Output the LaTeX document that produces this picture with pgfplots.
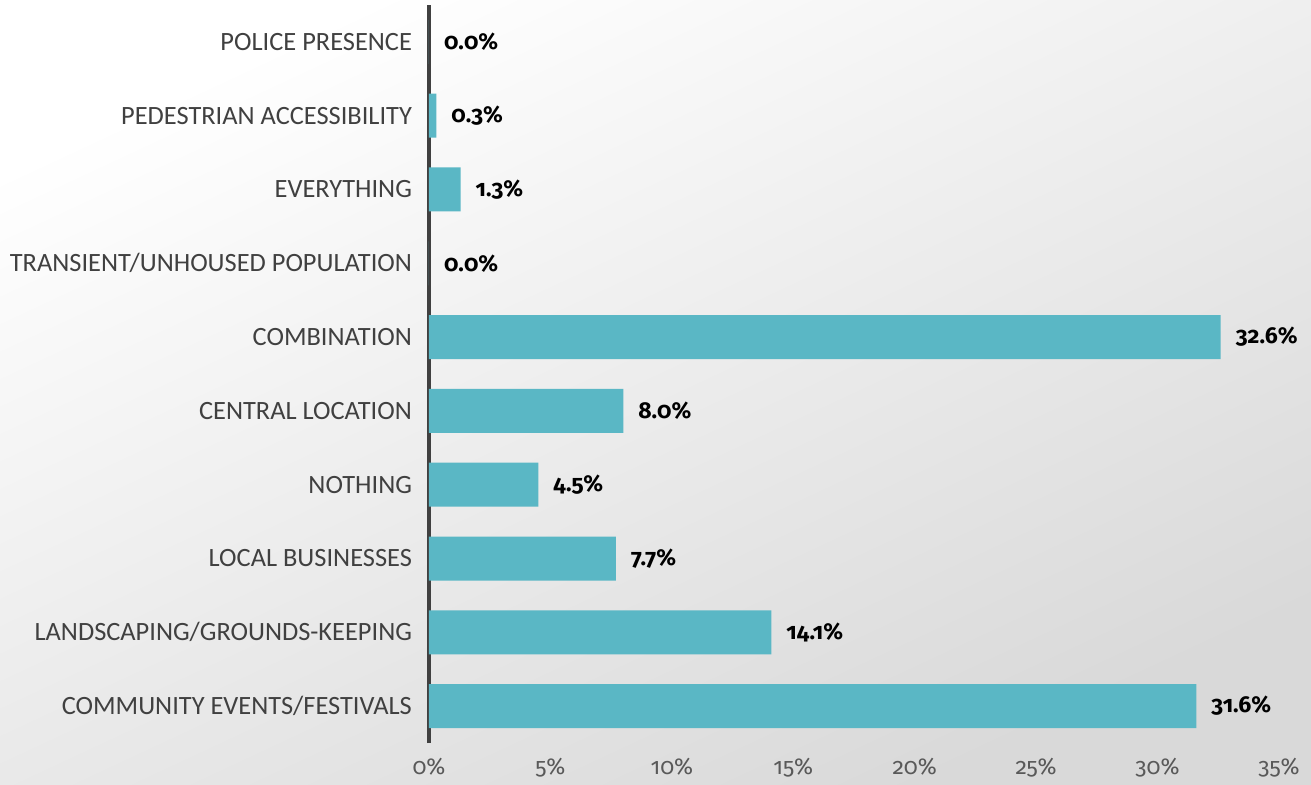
\documentclass[border=0pt]{standalone}
\usepackage{fontspec}
\setmainfont{Carlito}
\newfontfamily\numfont{Fira Sans}[Numbers=OldStyle]
\usepackage{pgfplots}
\pgfplotsset{compat=1.18}
\definecolor{barc}{HTML}{5AB7C5}
\definecolor{axc}{HTML}{404040}
\definecolor{lblc}{HTML}{404040}
\definecolor{tickc}{HTML}{595959}
\begin{document}
\begin{tikzpicture}
\shade[shading=axis, top color=white, bottom color=black!15, shading angle=25]
  (-214.5pt,-20.5pt) rectangle (441pt,371.5pt);
\begin{axis}[
  scale only axis,
  width=425pt, height=369pt,
  xmin=0, xmax=35, ymin=-0.5, ymax=9.5,
  xbar, bar width=22pt,
  axis y line*=left, axis x line*=bottom,
  x axis line style={draw=none},
  y axis line style={draw=axc, line width=1.6pt},
  major tick length=0pt,
  xtick={0,5,...,35},
  xticklabel={\pgfmathprintnumber{\tick}\%},
  /pgf/number format/assume math mode=true,
  xticklabel style={font=\numfont\fontsize{11.5}{14}\selectfont, text=tickc, yshift=-4pt},
  ytick={0,...,9},
  yticklabels={COMMUNITY EVENTS/FESTIVALS, LANDSCAPING/GROUNDS-KEEPING, LOCAL BUSINESSES, NOTHING, CENTRAL LOCATION, COMBINATION, TRANSIENT/UNHOUSED POPULATION, EVERYTHING, PEDESTRIAN ACCESSIBILITY, POLICE PRESENCE},
  yticklabel style={font=\fontsize{13.2}{15}\selectfont, text=lblc, xshift=-5pt},
  point meta=x,
  nodes near coords={\pgfmathprintnumber[fixed,fixed zerofill,precision=1]{\pgfplotspointmeta}\%},
  nodes near coords style={font=\numfont\bfseries\fontsize{11.5}{14}\selectfont, text=black, anchor=west, xshift=4pt},
  clip=false,
]
\addplot[fill=barc, draw=none] coordinates {
(31.6,0) (14.1,1) (7.7,2) (4.5,3) (8.0,4) (32.6,5) (0.0,6) (1.3,7) (0.3,8) (0.0,9)
};
\end{axis}
\pgfresetboundingbox
\useasboundingbox (-214.5pt,-20.5pt) rectangle (441pt,371.5pt);
\end{tikzpicture}
\end{document}
